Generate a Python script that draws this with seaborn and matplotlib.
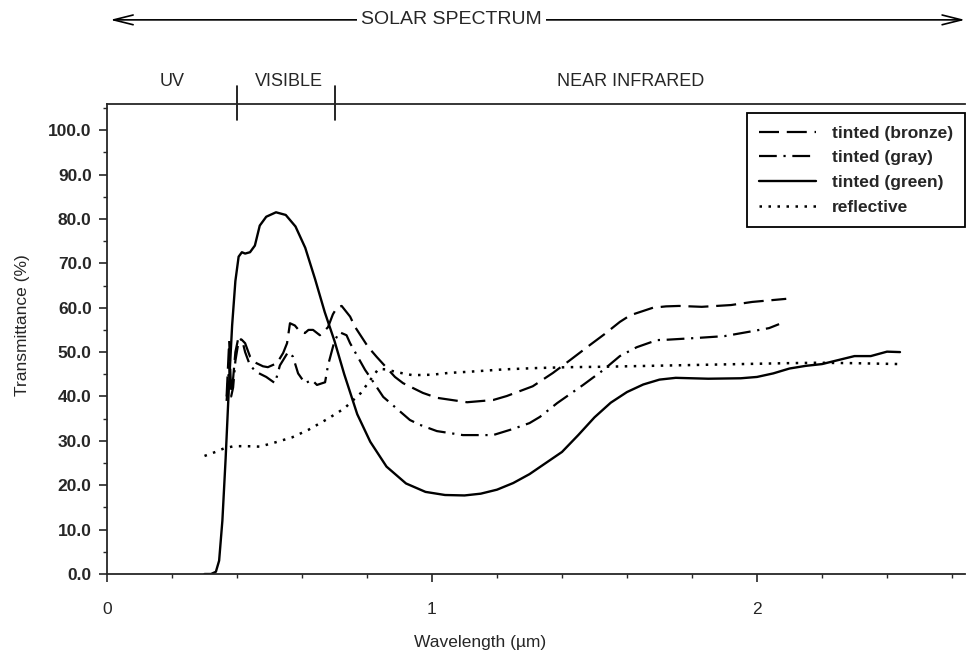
import numpy as np
import pandas as pd
import matplotlib
matplotlib.use("Agg")
import matplotlib.pyplot as plt
import matplotlib.transforms as mtransforms
from matplotlib.ticker import MultipleLocator, FormatStrFormatter
import seaborn as sns

# ---------------- data ----------------
bronze_wl = [0.368, 0.376, 0.382, 0.388, 0.395, 0.405, 0.425, 0.44, 0.46, 0.48, 0.495, 0.523, 0.542,
             0.554, 0.563, 0.578, 0.595, 0.609, 0.62, 0.634, 0.655, 0.68, 0.695, 0.707, 0.722, 0.748,
             0.763, 0.803, 0.83, 0.886, 0.911, 0.972, 1.015, 1.108, 1.188, 1.23, 1.31, 1.372, 1.425,
             1.486, 1.53, 1.578, 1.61, 1.68, 1.72, 1.76, 1.83, 1.92, 1.985, 2.09]
bronze_t = [40.0, 52.5, 41.0, 44.0, 50.0, 53.5, 52.0, 49.0, 47.5, 46.8, 46.6, 47.5, 49.8,
            52.0, 56.5, 56.0, 54.5, 54.3, 55.0, 55.0, 53.8, 55.6, 58.5, 60.0, 60.4, 58.0,
            55.7, 51.2, 48.9, 44.4, 43.0, 40.8, 39.7, 38.7, 39.2, 40.1, 42.3, 45.3, 48.2,
            51.6, 54.0, 56.8, 58.3, 60.0, 60.3, 60.4, 60.2, 60.6, 61.3, 62.0]

gray_wl = [0.368, 0.376, 0.382, 0.388, 0.395, 0.405, 0.415, 0.425, 0.44, 0.46, 0.49, 0.517, 0.532,
           0.557, 0.572, 0.588, 0.609, 0.631, 0.646, 0.671, 0.68, 0.70, 0.715, 0.737, 0.748, 0.794,
           0.809, 0.85, 0.932, 0.963, 1.015, 1.095, 1.188, 1.25, 1.30, 1.332, 1.385, 1.465, 1.526,
           1.578, 1.63, 1.692, 1.726, 1.818, 1.90, 1.985, 2.037, 2.068]
gray_t = [39.0, 47.0, 40.0, 42.0, 48.0, 52.5, 53.0, 50.0, 47.0, 45.5, 44.4, 43.0, 47.0,
          50.0, 49.0, 45.2, 43.0, 43.7, 42.6, 43.2, 47.0, 52.5, 54.5, 53.8, 52.0, 46.0,
          44.4, 39.9, 34.7, 33.6, 32.2, 31.3, 31.3, 32.7, 34.0, 35.4, 38.5, 42.6, 45.9,
          49.1, 51.1, 52.7, 52.8, 53.2, 53.6, 54.7, 55.4, 56.3]

green_wl = [0.30, 0.32, 0.335, 0.345, 0.355, 0.365, 0.375, 0.385, 0.395, 0.405, 0.415, 0.425, 0.44,
            0.455, 0.47, 0.49, 0.52, 0.55, 0.58, 0.61, 0.64, 0.67, 0.70, 0.73, 0.77, 0.81, 0.86,
            0.92, 0.98, 1.04, 1.10, 1.15, 1.20, 1.25, 1.30, 1.35, 1.40, 1.45, 1.50, 1.55, 1.60,
            1.65, 1.70, 1.75, 1.85, 1.95, 2.00, 2.05, 2.10, 2.15, 2.20, 2.25, 2.30, 2.35, 2.40, 2.44]
green_t = [0.0, 0.0, 0.5, 3.0, 12.0, 26.0, 42.0, 56.0, 66.0, 71.5, 72.5, 72.2, 72.5,
           74.0, 78.5, 80.5, 81.5, 80.9, 78.3, 73.5, 66.5, 59.0, 52.5, 45.0, 36.0, 29.8, 24.2,
           20.4, 18.5, 17.8, 17.7, 18.1, 19.0, 20.5, 22.5, 25.0, 27.5, 31.3, 35.3, 38.6, 41.0,
           42.7, 43.8, 44.2, 44.0, 44.1, 44.4, 45.2, 46.3, 46.9, 47.3, 48.2, 49.1, 49.1, 50.1, 50.0]

refl_wl = [0.30, 0.33, 0.36, 0.39, 0.43, 0.47, 0.52, 0.57, 0.62, 0.68, 0.73, 0.78, 0.81, 0.835,
           0.86, 0.89, 0.94, 1.00, 1.05, 1.12, 1.22, 1.32, 1.42, 1.53, 1.67, 1.88, 2.09, 2.19,
           2.30, 2.44]
refl_t = [26.6, 27.4, 28.3, 28.8, 28.8, 28.7, 29.7, 30.8, 32.5, 35.0, 37.3, 40.7, 43.7, 46.2,
          46.1, 45.5, 44.8, 44.9, 45.3, 45.6, 46.1, 46.4, 46.6, 46.7, 46.9, 47.2, 47.5, 47.6,
          47.5, 47.3]

series_names = ["tinted (bronze)", "tinted (gray)", "tinted (green)", "reflective"]
region_names = ["UV", "VISIBLE", "NEAR INFRARED"]
region_label_x = [0.20, 0.56, 1.61]
region_edges = [0.4, 0.7]
x_ticks = [0, 1, 2]

# ---------------- styling ----------------
sns.set_style("ticks")
plt.rcParams['font.family'] = ['Liberation Sans', 'DejaVu Sans']
plt.rcParams['axes.linewidth'] = 1.3

fig = plt.figure(figsize=(9.66, 6.58), dpi=100)
ax = fig.add_axes([107/966, 1-574/658, 858/966, 470/658])

styles = {
    "tinted (bronze)": dict(linestyle=(0, (9, 3.5)), lw=1.6),
    "tinted (gray)": dict(linestyle=(0, (8, 3, 1, 3)), lw=1.6),
    "tinted (green)": dict(linestyle="-", lw=1.7),
    "reflective": dict(linestyle=(0, (1, 2.6)), lw=1.8),
}
data = [(bronze_wl, bronze_t), (gray_wl, gray_t), (green_wl, green_t), (refl_wl, refl_t)]
for name, (wl, t) in zip(series_names, data):
    df = pd.DataFrame({"wavelength": wl, "transmittance": t})
    sns.lineplot(data=df, x="wavelength", y="transmittance", ax=ax, color="black",
                 estimator=None, sort=False, label=name, **styles[name])

ax.set_xlim(0, 2.64)
ax.set_ylim(0, 105.9)
ax.set_xticks(x_ticks)
ax.xaxis.set_minor_locator(MultipleLocator(0.2))
ax.yaxis.set_major_locator(MultipleLocator(10))
ax.yaxis.set_minor_locator(MultipleLocator(5))
ax.set_yticks(np.arange(0, 101, 10))
ax.yaxis.set_major_formatter(FormatStrFormatter("%.1f"))
ax.tick_params(axis="y", which="major", length=6, width=1.2, direction="out", pad=5,
               labelsize=12.5)
ax.tick_params(axis="y", which="minor", length=3, width=1.0, direction="out")
ax.tick_params(axis="x", which="major", length=6, width=1.2, direction="out", pad=14,
               labelsize=12.5)
ax.tick_params(axis="x", which="minor", length=3, width=1.0, direction="out")
for lab in ax.get_yticklabels():
    lab.set_fontweight("bold")

ax.spines["right"].set_visible(False)
ax.spines["top"].set_visible(True)

ax.set_xlabel("Wavelength (\u00b5m)", fontsize=12.5)
ax.set_ylabel("Transmittance (%)", fontsize=12.5)
ax.xaxis.set_label_coords(0.435, -0.130)
ax.yaxis.set_label_coords(-0.09, 0.53)

# region annotations above the axes
trans = mtransforms.blended_transform_factory(ax.transData, ax.transAxes)
for name, xpos in zip(region_names, region_label_x):
    ax.text(xpos, 1.047, name, transform=trans, ha="center", va="center", fontsize=13)
for e in region_edges:
    ax.plot([e, e], [0.966, 1.038], transform=trans, color="black", lw=1.2, clip_on=False)

# solar spectrum arrow
ax.annotate("", xy=(0.01, 1.179), xytext=(2.64, 1.179), xycoords=trans, textcoords=trans,
            arrowprops=dict(arrowstyle="<->,head_length=1.4,head_width=0.35", color="black",
                            lw=1.2, shrinkA=0, shrinkB=0), annotation_clip=False)
ax.text(1.06, 1.179, "SOLAR SPECTRUM", transform=trans, ha="center", va="center",
        fontsize=14, bbox=dict(facecolor="white", edgecolor="none", pad=3))

leg = ax.legend(loc="upper right", bbox_to_anchor=(1.0, 0.98), borderaxespad=0,
                frameon=True, fancybox=False, edgecolor="black", framealpha=1,
                handlelength=3.3, prop=dict(weight="bold", size=12.5), labelspacing=0.55,
                borderpad=0.7, handletextpad=0.9)
leg.get_frame().set_linewidth(1.3)

fig.savefig("out.png", dpi=100, facecolor="white")
